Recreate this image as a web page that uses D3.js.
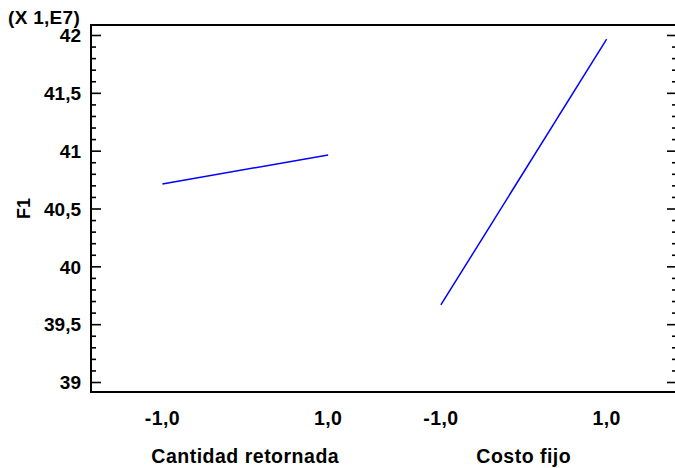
<!DOCTYPE html>
<html>
<head>
<meta charset="utf-8">
<script src="https://cdn.jsdelivr.net/npm/d3@7"></script>
<style>
  html, body { margin: 0; padding: 0; background: #fff; }
  svg { display: block; }
  text { font-family: "Liberation Sans", Arial, sans-serif; font-weight: bold; fill: #000; }
</style>
</head>
<body>
<svg id="chart" width="675" height="468"></svg>
<script>
// Main effects for F1 (values in units of 1E7)
const factors = ["Cantidad retornada", "Costo fijo"];
const levels = [-1, 1];
const levelLabels = ["-1,0", "1,0"];
const lowValues = [40.712, 39.666];
const highValues = [40.963, 41.965];
const yMajorTicks = [39, 39.5, 40, 40.5, 41, 41.5, 42];
const yTickLabels = ["39", "39,5", "40", "40,5", "41", "41,5", "42"];
const yLabel = "F1";
const scaleNote = "(X 1,E7)";

const svg = d3.select("#chart");
const frame = { left: 91, top: 25, right: 677, bottom: 392 };
const fontSize = 19;

const y = d3.scaleLinear()
  .domain([38.9136, 42.0864])
  .range([frame.bottom, frame.top]);

// one band per factor, a -1..1 scale inside each band
const xBand = d3.scaleBand().domain(factors).range([106, 663]);
const xInner = d3.scaleLinear().domain([-1.68, 1.68]).range([0, xBand.bandwidth()]);
const xPos = (f, lv) => xBand(f) + xInner(lv);

// frame: left, top and bottom borders (right border sits just past the edge)
const g = svg.append("g");
g.append("path")
  .attr("d", `M${frame.right},${frame.top}H${frame.left}V${frame.bottom}H${frame.right}V${frame.top}`)
  .attr("fill", "none").attr("stroke", "#000").attr("stroke-width", 2);

// minor ticks every 0.1
const minorTicks = d3.range(39, 42.0001, 0.1).map(v => +v.toFixed(1))
  .filter(v => !yMajorTicks.includes(v));

const yAxisLeft = d3.axisRight(y).tickValues(yMajorTicks).tickSize(10).tickFormat("");
const yAxisLeftMinor = d3.axisRight(y).tickValues(minorTicks).tickSize(5).tickFormat("");
const yAxisRight = d3.axisLeft(y).tickValues(yMajorTicks).tickSize(10).tickFormat("");
const yAxisRightMinor = d3.axisLeft(y).tickValues(minorTicks).tickSize(5).tickFormat("");

function styleAxis(sel) {
  sel.select(".domain").remove();
  sel.selectAll(".tick line").attr("stroke", "#000").attr("stroke-width", 1.6);
}
g.append("g").attr("transform", `translate(${frame.left},0)`).call(yAxisLeft).call(styleAxis);
g.append("g").attr("transform", `translate(${frame.left},0)`).call(yAxisLeftMinor).call(styleAxis);
g.append("g").attr("transform", `translate(${frame.right},0)`).call(yAxisRight).call(styleAxis);
g.append("g").attr("transform", `translate(${frame.right},0)`).call(yAxisRightMinor).call(styleAxis);

// y tick labels
g.selectAll("text.ylab").data(yMajorTicks).join("text")
  .attr("class", "ylab")
  .attr("x", frame.left - 10)
  .attr("y", d => y(d))
  .attr("dy", "0.38em")
  .attr("text-anchor", "end")
  .attr("font-size", fontSize)
  .text((d, i) => yTickLabels[i]);

// y axis title
g.append("text")
  .attr("transform", `translate(30,${(frame.top + frame.bottom) / 2}) rotate(-90)`)
  .attr("text-anchor", "middle")
  .attr("font-size", fontSize - 1)
  .text(yLabel);

// multiplier note
g.append("text")
  .attr("x", 8).attr("y", 24)
  .attr("font-size", fontSize)
  .attr("letter-spacing", 0.3)
  .text(scaleNote);

// x level labels and factor names
factors.forEach(f => {
  levels.forEach((lv, i) => {
    g.append("text")
      .attr("x", xPos(f, lv))
      .attr("y", 425)
      .attr("text-anchor", "middle")
      .attr("font-size", 19.5)
      .attr("letter-spacing", 0.4)
      .text(levelLabels[i]);
  });
  g.append("text")
    .attr("x", xBand(f) + xBand.bandwidth() / 2)
    .attr("y", 463)
    .attr("text-anchor", "middle")
    .attr("font-size", 19.5)
    .attr("letter-spacing", 0.5)
    .text(f);
});

// effect lines
const line = d3.line().x(d => d.x).y(d => y(d.v));
factors.forEach((f, i) => {
  const pts = [
    { x: xPos(f, levels[0]), v: lowValues[i] },
    { x: xPos(f, levels[1]), v: highValues[i] }
  ];
  g.append("path")
    .attr("d", line(pts))
    .attr("fill", "none")
    .attr("stroke", "#0000ff")
    .attr("stroke-width", 1.5);
});
</script>
</body>
</html>
